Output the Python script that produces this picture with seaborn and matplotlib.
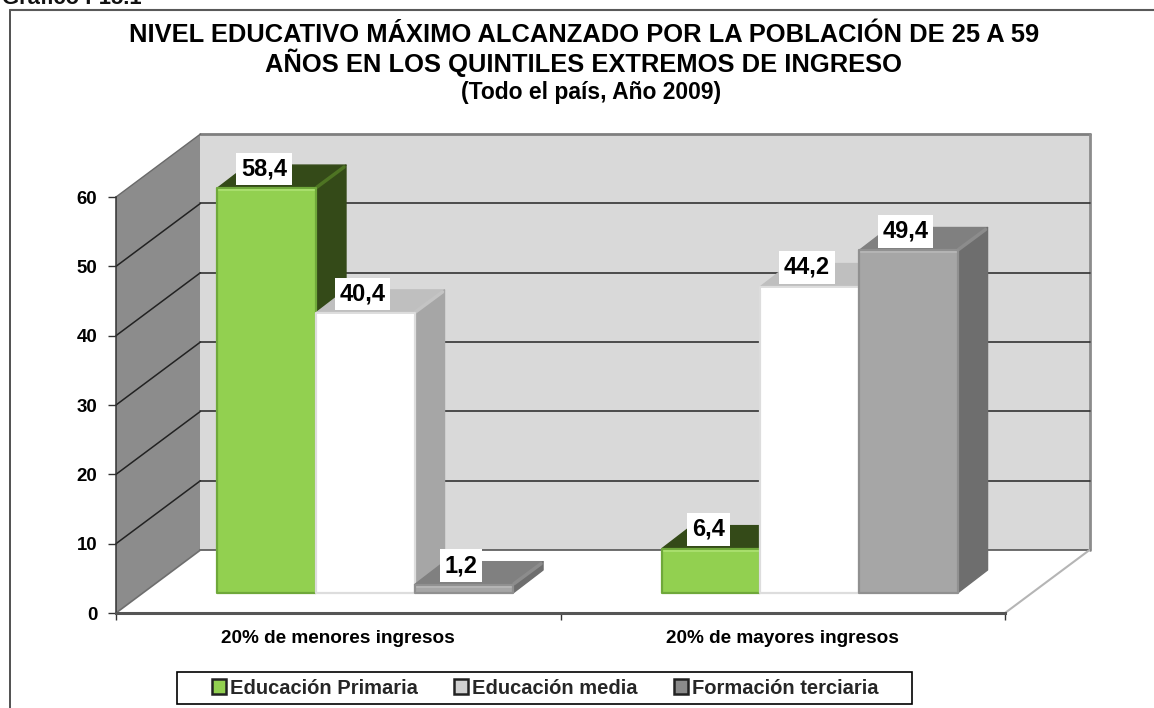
import numpy as np
import pandas as pd
import seaborn as sns
import matplotlib
matplotlib.use('Agg')
import matplotlib.pyplot as plt
from matplotlib.patches import Polygon
from matplotlib.transforms import Affine2D, IdentityTransform

# Data
grupos = ['20% de menores ingresos', '20% de mayores ingresos']
niveles = ['Educación Primaria', 'Educación media', 'Formación terciaria']
primaria = [58.4, 6.4]
media = [40.4, 44.2]
terciaria = [1.2, 49.4]
y_ticks = [0, 10, 20, 30, 40, 50, 60]

titulo = 'NIVEL EDUCATIVO MÁXIMO ALCANZADO POR LA POBLACIÓN DE 25 A 59\nAÑOS EN LOS QUINTILES EXTREMOS DE INGRESO'
subtitulo = '(Todo el país, Año 2009)'
encabezado = 'Gráfico I-15.1'

# Colours per series: front, top, side, ridge, edge, highlight
colores = ['#92D050', '#FFFFFF', '#A6A6A6']
techo = ['#344A18', '#BFBFBF', '#808080']
lado = ['#344A18', '#A6A6A6', '#6E6E6E']
arista = ['#4E7423', '#C4C4C4', '#8C8C8C']
borde = ['#6FA83A', '#DDDDDD', '#909090']
brillo = ['#A8DE6C', '#FFFFFF', '#B4B4B4']
muestra = ['#92D050', '#D0D0D0', '#8A8A8A']

df = pd.DataFrame({
    'grupo': grupos * 3,
    'nivel': np.repeat(niveles, 2),
    'valor': primaria + media + terciaria,
})

W, H = 1154, 708
plt.rcParams['font.family'] = ['Liberation Sans', 'DejaVu Sans']
sns.set_style('white', {'font.family': ['Liberation Sans', 'DejaVu Sans']})

fig = plt.figure(figsize=(W / 100, H / 100), dpi=100, facecolor='white')
ax = fig.add_axes([116 / W, 1 - 613 / H, 889 / W, 416 / H])

sns.barplot(data=df, x='grupo', y='valor', hue='nivel', order=grupos, hue_order=niveles,
            palette=colores, width=0.665, gap=0, saturation=1, ax=ax)
ax.set_xlim(-0.5, 1.5)
ax.set_ylim(0, 60)
ax.patch.set_alpha(0)
ax.set_xlabel('')
ax.set_ylabel('')

# Fake perspective, everything below is in pixels
ident = IdentityTransform()
fondo = np.array([84.5, 63.0])    # back wall offset
plano = np.array([27.0, 20.0])    # offset of the bar front plane
prof = np.array([30.0, 23.0])     # depth of a bar


def px(x, y):
    return ax.transData.transform((x, y))


def poly(puntos, color, z, ec='none', lw=0):
    ax.add_patch(Polygon(puntos, closed=True, fc=color, ec=ec, lw=lw, transform=ident,
                         clip_on=False, zorder=z, joinstyle='round'))


def linea(a, b, color, lw, z):
    ax.plot([a[0], b[0]], [a[1], b[1]], color=color, lw=lw, transform=ident, clip_on=False,
            zorder=z, solid_capstyle='round', scalex=False, scaley=False)


x0, x1 = ax.get_xlim()
y0, y1 = ax.get_ylim()
f00, f10, f01, f11 = px(x0, y0), px(x1, y0), px(x0, y1), px(x1, y1)

# left wall, back wall, floor
poly([f00, f01, f01 + fondo, f00 + fondo], '#8C8C8C', 0.5)
poly([f00 + fondo, f01 + fondo, f11 + fondo, f10 + fondo], '#D9D9D9', 0.6)
poly([f00, f00 + fondo, f10 + fondo, f10], '#FFFFFF', 0.7)
linea(f01 + fondo, f11 + fondo, '#7F7F7F', 2, 0.8)
linea(f11 + fondo, f10 + fondo, '#8C8C8C', 2, 0.8)
linea(f00 + fondo, f10 + fondo, '#555555', 1.2, 0.8)
linea(f10, f10 + fondo, '#B5B5B5', 1.5, 0.8)
linea(f00, f00 + fondo, '#6E6E6E', 1.2, 0.8)
linea(f01, f01 + fondo, '#6A6A6A', 1, 0.8)

for t in y_ticks[1:-1]:
    a = px(x0, t)
    b = a + fondo
    c = px(x1, t) + fondo
    linea(a, b, '#222222', 1.1, 0.9)
    linea(b, c, '#333333', 1.2, 0.9)

# bars: move the front to its plane and add top and side
desplaza = Affine2D().translate(*plano)
for i, cont in enumerate(ax.containers):
    z = 2 + i
    for bar in cont:
        xa, xb = bar.get_x(), bar.get_x() + bar.get_width()
        h = bar.get_height()
        b = px(xb, 0) + plano
        c = px(xb, h) + plano
        d = px(xa, h) + plano
        poly([d, c, c + prof, d + prof], techo[i], z, ec=techo[i], lw=1)
        poly([b, c, c + prof, b + prof], lado[i], z, ec=lado[i], lw=1)
        linea(c + [1, 1], c + prof - [2, 2], arista[i], 2.5, z + 0.1)
        bar.set_transform(ax.transData + desplaza)
        bar.set_clip_on(False)
        bar.set_edgecolor(borde[i])
        bar.set_linewidth(1.6)
        bar.set_joinstyle('round')
        bar.set_zorder(z + 0.2)
        linea(d + [2, -2], c + [-2, -2], brillo[i], 1.5, z + 0.3)
        # value label in a white box
        ax.annotate(f'{h:.1f}'.replace('.', ','), xy=((xa + xb) / 2, h),
                    xycoords=ax.transData + desplaza, xytext=(-2, 13.8), textcoords='offset points',
                    ha='center', va='center', fontsize=17, fontweight='bold', color='black',
                    zorder=10, annotation_clip=False,
                    bbox=dict(boxstyle='square,pad=0.2', fc='white', ec='none'))

# axes
sns.despine(ax=ax, top=True, right=True)
ax.spines['left'].set_color('#333333')
ax.spines['left'].set_linewidth(1.1)
ax.spines['left'].set_zorder(1)
ax.spines['bottom'].set_color('#555555')
ax.spines['bottom'].set_linewidth(2.2)
ax.set_yticks(y_ticks)
ax.tick_params(axis='y', length=5.5, width=1, color='#333333', pad=8, labelsize=13.4, left=True,
               labelcolor='black')
ax.set_xticks([0, 1])
ax.set_xticklabels(grupos, fontsize=13.7, fontweight='bold', color='black')
ax.set_xticks([x0, 0.5, x1], minor=True)
ax.tick_params(axis='x', which='major', length=0, pad=12.5)
ax.tick_params(axis='x', which='minor', length=5, width=1, color='#333333', bottom=True)
for lab in ax.get_yticklabels():
    lab.set_fontweight('bold')

# titles
fig.text(584 / W, 1 - 50 / H, titulo, ha='center', va='center', fontsize=18.4, fontweight='bold',
         linespacing=1.1, color='black')
fig.text(591 / W, 1 - 92 / H, subtitulo, ha='center', va='center', fontsize=16.5, fontweight='bold',
         color='black')
fig.text(2 / W, 1 - 4 / H, encabezado, ha='left', va='baseline', fontsize=15.8, fontweight='bold', color='#111111')

# chart frame, open to the right and bottom as in the crop
fig.add_artist(plt.Line2D([9.5 / W, 9.5 / W], [0, 1 - 10 / H], color='#333333', lw=1.2))
fig.add_artist(plt.Line2D([9.5 / W, 1], [1 - 10 / H, 1 - 10 / H], color='#595959', lw=1.5))

# legend box is wider than its content
fig.add_artist(plt.Rectangle((177 / W, 1 - 704 / H), 735 / W, 32 / H, transform=fig.transFigure,
                             fc='white', ec='black', lw=1.2, zorder=-1))
sns.move_legend(ax, loc='center', bbox_to_anchor=(545.5 / W, 1 - 688 / H), bbox_transform=fig.transFigure,
                ncol=3, title=None, frameon=False, prop={'weight': 'bold', 'size': 14.5},
                handlelength=0.7, handleheight=0.7, handletextpad=0.2, columnspacing=1.8,
                borderpad=0, borderaxespad=0)
leg = ax.get_legend()
leg.set_zorder(20)
for parche, c in zip(leg.get_patches(), muestra):
    parche.set_facecolor(c)
    parche.set_edgecolor('#222222')
    parche.set_linewidth(1.8)

fig.savefig('out.png', dpi=100)
